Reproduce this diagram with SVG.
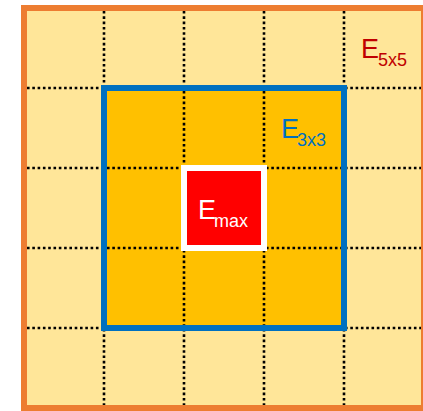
<svg xmlns="http://www.w3.org/2000/svg" width="423" height="411" viewBox="0 0 423 411">
  <style>
    .grid { stroke: #000000; stroke-width: 2.6; stroke-dasharray: 2.6 2.7; fill: none; }
    .lbl { font-family: "Liberation Sans", Arial, sans-serif; }
  </style>
  <rect x="0" y="0" width="423" height="411" fill="#FFFFFF"/>
  <g id="outer-5x5">
    <rect x="24" y="8" width="400" height="400" fill="#FFE699" stroke="#ED7D31" stroke-width="6"/>
  </g>
  <g id="grid-outer">
    <line class="grid" x1="104" y1="11" x2="104" y2="405"/>
    <line class="grid" x1="184" y1="11" x2="184" y2="405"/>
    <line class="grid" x1="264" y1="11" x2="264" y2="405"/>
    <line class="grid" x1="344" y1="11" x2="344" y2="405"/>
    <line class="grid" x1="27" y1="88" x2="421" y2="88"/>
    <line class="grid" x1="27" y1="168" x2="421" y2="168"/>
    <line class="grid" x1="27" y1="248" x2="421" y2="248"/>
    <line class="grid" x1="27" y1="328" x2="421" y2="328"/>
  </g>
  <g id="inner-3x3">
    <rect x="104" y="88" width="240" height="240" fill="#FFC000"/>
    <line class="grid" x1="184" y1="91" x2="184" y2="325"/>
    <line class="grid" x1="264" y1="91" x2="264" y2="325"/>
    <line class="grid" x1="107" y1="168" x2="341" y2="168"/>
    <line class="grid" x1="107" y1="248" x2="341" y2="248"/>
    <rect x="104" y="88" width="240" height="240" fill="none" stroke="#0070C0" stroke-width="6"/>
  </g>
  <g id="center-max">
    <rect x="184" y="168" width="80" height="80" fill="#FF0000" stroke="#FFFFFF" stroke-width="6"/>
  </g>
  <g id="labels">
    <text class="lbl" x="361" y="58" font-size="27" fill="#C00000">E</text>
    <text class="lbl" x="378" y="66" font-size="18" fill="#C00000">5x5</text>
    <text class="lbl" x="281" y="138" font-size="27" fill="#0070C0">E</text>
    <text class="lbl" x="297" y="146" font-size="18" fill="#0070C0">3x3</text>
    <text class="lbl" x="198" y="219" font-size="27" fill="#FFFFFF">E</text>
    <text class="lbl" x="214" y="227" font-size="18" fill="#FFFFFF">max</text>
  </g>
</svg>
